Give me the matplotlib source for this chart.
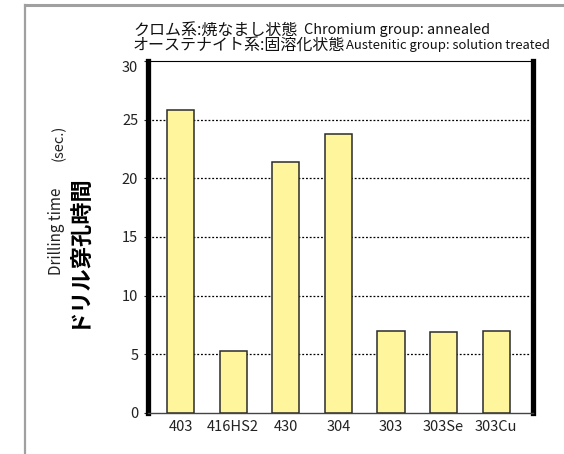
"""Drilling time per stainless grade (bar chart)."""

import matplotlib
matplotlib.use("Agg")
import matplotlib.pyplot as plt
import matplotlib.transforms as mtransforms
from matplotlib.lines import Line2D

plt.rcParams["font.family"] = ["Noto Sans CJK JP", "DejaVu Sans"]

# --- data ---
grades = ["403", "416HS2", "430", "304", "303", "303Se", "303Cu"]
drill_time = [25.8, 5.3, 21.4, 23.8, 7.0, 6.9, 7.0]
y_ticks = [0, 5, 10, 15, 20, 25, 30]

W, H = 564, 454
fig = plt.figure(figsize=(W / 100, H / 100), dpi=100)
ax = fig.add_axes([148 / W, 1 - 413 / H, (533 - 148) / W, (413 - 61) / H])

x = list(range(len(grades)))
ax.bar(x, drill_time, width=0.52, color="#fff59d", edgecolor="#2b2b2b", linewidth=1.1, zorder=3)

ax.set_xlim(-0.62, 6.70)
ax.set_ylim(0, 30)
ax.set_yticks(y_ticks)
ax.set_xticks(x)
ax.set_xticklabels(grades)

for yv in y_ticks[1:-1]:
    ax.axhline(yv, color="black", linestyle=(0, (1.5, 1.5)), linewidth=0.9, zorder=1)

ax.tick_params(axis="y", direction="out", length=3, width=0.8, pad=4, labelsize=10.5, colors="#222222")
ax.tick_params(axis="x", length=0, pad=5, labelsize=10.5, colors="#222222")

# l'etichetta "30" sta un po' più in basso nell'originale
top_lab = ax.get_yticklabels()[-1]
top_lab.set_transform(top_lab.get_transform()
                      + mtransforms.ScaledTranslation(0, -6 / 100, fig.dpi_scale_trans))

ax.spines["left"].set_linewidth(3.8)
ax.spines["right"].set_linewidth(3.8)
ax.spines["top"].set_linewidth(0.8)
ax.spines["bottom"].set_linewidth(1.0)
ax.spines["bottom"].set_color("#444444")
for s in ("left", "right", "top"):
    ax.spines[s].set_color("black")

# --- titolo a due righe ---
fig.text(133 / W, 1 - 30 / H, "クロム系:焼なまし状態", fontsize=11.5, ha="left", va="center", color="#111111")
fig.text(304 / W, 1 - 30 / H, "Chromium group: annealed", fontsize=10.4, ha="left", va="center", color="#111111")
fig.text(133 / W, 1 - 46 / H, "オーステナイト系:固溶化状態", fontsize=11.5, ha="left", va="center", color="#111111")
fig.text(346 / W, 1 - 46 / H, "Austenitic group: solution treated", fontsize=9.4, ha="left", va="center", color="#111111")

# --- etichette asse y ---
fig.text(57 / W, 1 - 231 / H, "Drilling time", fontsize=11, rotation=90,
         ha="center", va="center", color="#222222")
fig.text(59 / W, 1 - 143 / H, "(sec.)", fontsize=10.5, rotation=90,
         ha="center", va="center", color="#222222")
fig.text(77 / W, 1 - 250 / H, "ドリル穿孔時間", fontsize=16, fontweight="bold", rotation=90,
         ha="center", va="center", color="black")

# --- cornice grigia ---
fig.add_artist(Line2D([25 / W, 1], [1 - 5 / H, 1 - 5 / H], transform=fig.transFigure,
                      color="#a0a0a0", linewidth=2.2))
fig.add_artist(Line2D([25 / W, 25 / W], [1 - 5 / H, 0], transform=fig.transFigure,
                      color="#a0a0a0", linewidth=1.6))

fig.savefig("out.png", dpi=100)
